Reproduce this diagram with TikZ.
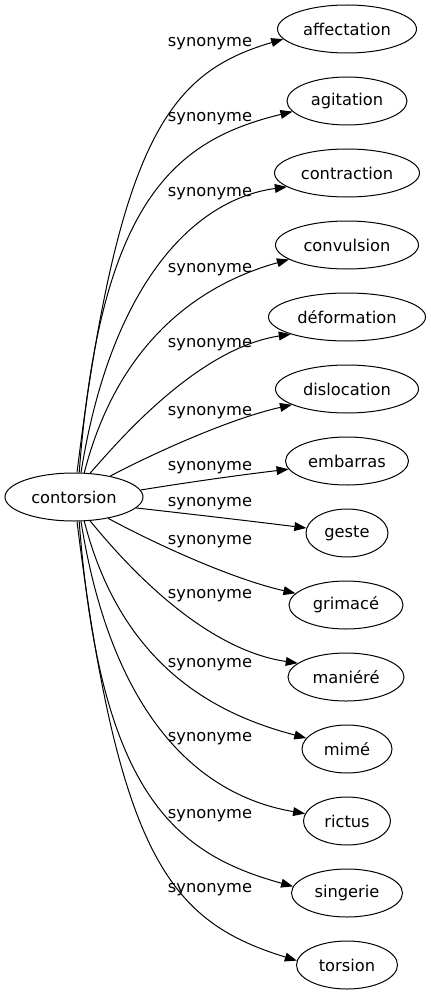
\documentclass[tikz,border=0pt]{standalone}
\usepackage{fontspec}
\setmainfont{DejaVu Sans}
\usetikzlibrary{arrows.meta,shapes.geometric}
\begin{document}
\begin{tikzpicture}[x=0.75pt,y=-0.75pt,
  word/.style={draw,ellipse,inner sep=0pt,minimum height=36pt,line width=0.75pt,
    font=\fontsize{12.2pt}{14pt}\selectfont},
  wd/.style={minimum width=0.75pt*#1},
  edge/.style={line width=0.75pt,-{Triangle[length=9pt,width=6.6pt]}},
  lab/.style={anchor=base,inner sep=0pt,font=\fontsize{12.2pt}{14pt}\selectfont}]
\useasboundingbox (0,0) rectangle (431,995);
% nodes
\node[word,wd=138] (c) at (74,497) {contorsion};
\node[word,wd=139] (n1) at (347,29) {affectation};
\node[word,wd=120] (n2) at (347,101) {agitation};
\node[word,wd=145] (n3) at (347,173) {contraction};
\node[word,wd=143] (n4) at (347,245) {convulsion};
\node[word,wd=157] (n5) at (347,317) {déformation};
\node[word,wd=143] (n6) at (347,389) {dislocation};
\node[word,wd=123] (n7) at (347,461) {embarras};
\node[word,wd=82]  (n8) at (347,533) {geste};
\node[word,wd=114] (n9) at (346,605) {grimacé};
\node[word,wd=116] (n10) at (346,677) {maniéré};
\node[word,wd=90]  (n11) at (347,749) {mimé};
\node[word,wd=87]  (n12) at (347,821) {rictus};
\node[word,wd=111] (n13) at (347,893) {singerie};
\node[word,wd=101] (n14) at (347,965) {torsion};
% labels
\node[lab] (l1) at (210,46.7) {synonyme};
\node[lab] (l2) at (210,121.7) {synonyme};
\node[lab] (l3) at (210,196.7) {synonyme};
\node[lab] (l4) at (210,272.3) {synonyme};
\node[lab] (l5) at (210,347.3) {synonyme};
\node[lab] (l6) at (210,415) {synonyme};
\node[lab] (l7) at (210,470) {synonyme};
\node[lab] (l8) at (210,506.7) {synonyme};
\node[lab] (l9) at (210,544) {synonyme};
\node[lab] (l10) at (210,598.3) {synonyme};
\node[lab] (l11) at (210,667.3) {synonyme};
\node[lab] (l12) at (210,741.7) {synonyme};
\node[lab] (l13) at (210,818.3) {synonyme};
\node[lab] (l14) at (210,892.3) {synonyme};
% edges
\draw[edge] (c.83) .. controls (119,133) and (172,72) .. (n1.189);
\draw[edge] (c.78) .. controls (100,200) and (175,140) .. (n2.191);
\draw[edge] (c.74) .. controls (110,290) and (190,200) .. (n3.193);
\draw[edge] (c.67) .. controls (123,322) and (223,278) .. (n4.194);
\draw[edge] (c.56) .. controls (111,450) and (194,349) .. (n5.197);
\draw[edge] (c.30) .. controls (148,456) and (228,419) .. (n6.196);
\draw[edge] (c.6) .. controls (190,482) and (240,475) .. (n7.188);
\draw[edge] (c.350) .. controls (190,514) and (250,521) .. (n8.173);
\draw[edge] (c.328) .. controls (148,540) and (228,578) .. (n9.167);
\draw[edge] (c.304) .. controls (111,546) and (194,648) .. (n10.164);
\draw[edge] (c.293) .. controls (123,672) and (223,716) .. (n11.165);
\draw[edge] (c.286) .. controls (110,704) and (190,794) .. (n12.170);
\draw[edge] (c.282) .. controls (100,794) and (175,854) .. (n13.173);
\draw[edge] (c.277) .. controls (119,861) and (172,922) .. (n14.175);
\end{tikzpicture}
\end{document}
